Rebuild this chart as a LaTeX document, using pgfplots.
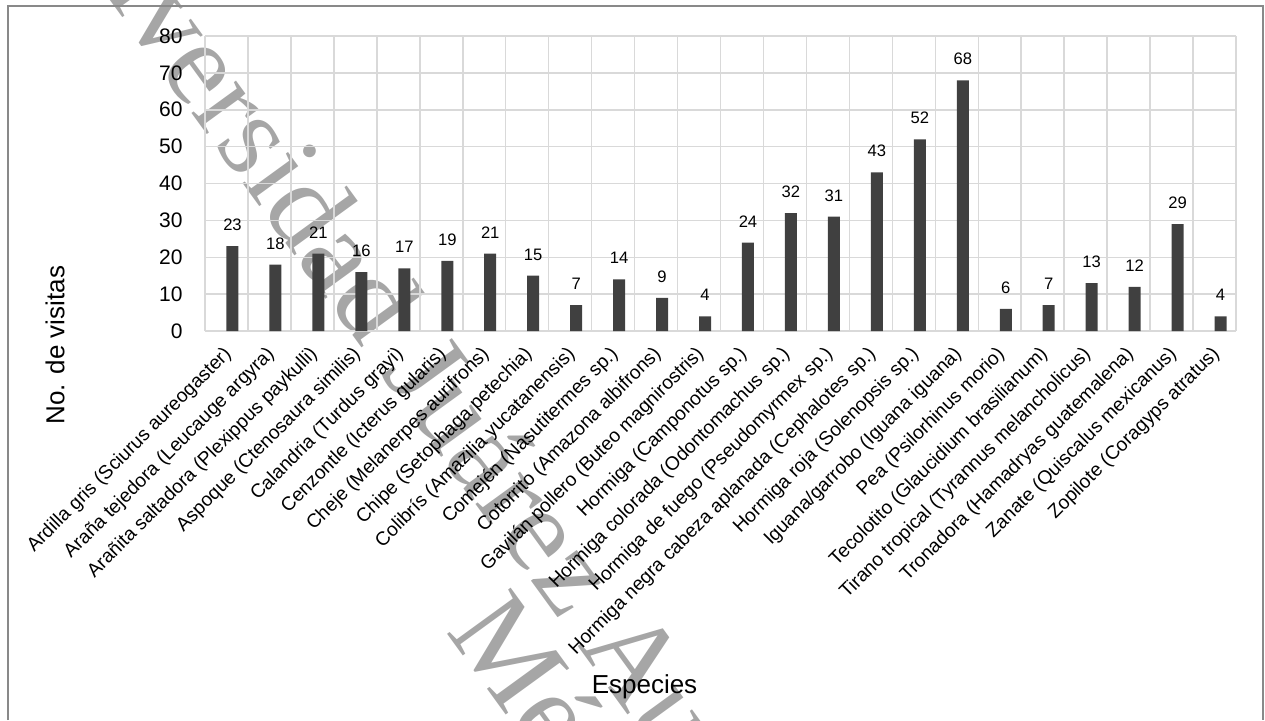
\documentclass[border=0pt]{standalone}
\usepackage{fontspec}
\setmainfont{Liberation Sans}
\newfontfamily\wmfont{Liberation Serif}
\usepackage{pgfplots}
\pgfplotsset{compat=1.18}
\definecolor{barc}{HTML}{404040}
\definecolor{gridc}{HTML}{D9D9D9}
\definecolor{framec}{HTML}{898989}
\definecolor{wmc}{HTML}{A6A6A6}
\begin{document}
\begin{tikzpicture}[x=1bp,y=1bp]
\useasboundingbox (0,0) rectangle (632.5,360);
% watermark
\node[rotate=-54, font=\wmfont\fontsize{60bp}{60bp}\selectfont, text=wmc, inner sep=0pt] at (323,25.5) {Universidad Juárez Autónoma de Tabasco};
\node[rotate=-54, font=\wmfont\fontsize{60bp}{60bp}\selectfont, text=wmc, inner sep=0pt] at (293.5,-18) {México};
\begin{axis}[
  at={(102.5bp,194.5bp)}, anchor=south west,
  scale only axis, width=515.5bp, height=147.5bp,
  xmin=-0.5, xmax=23.5, ymin=0, ymax=80,
  ytick={0,10,...,80},
  xtick={0,...,23},
  minor xtick={-0.5,0.5,...,23.5},
  xminorgrids=true, ymajorgrids=true,
  grid style={draw=gridc, line width=0.75bp},
  minor grid style={draw=gridc, line width=0.75bp},
  axis line style={draw=none},
  major tick length=0pt, minor tick length=0pt,
  /pgf/number format/assume math mode=true,
  yticklabel style={anchor=east, inner sep=0pt, xshift=-11bp, font=\fontsize{10.5bp}{12bp}\selectfont},
  xticklabel style={xshift=2.9bp, yshift=-11.85bp, rotate=45, anchor=base east, inner sep=0pt, font=\fontsize{9.6bp}{11bp}\selectfont},
  xticklabels={
    Ardilla gris (Sciurus aureogaster),
    Araña tejedora (Leucauge argyra),
    Arañita saltadora (Plexippus paykulli),
    Aspoque (Ctenosaura similis),
    Calandria (Turdus grayi),
    Cenzontle (Icterus gularis),
    Cheje (Melanerpes aurifrons),
    Chipe (Setophaga petechia),
    Colibrís (Amazilia yucatanensis),
    Comején (Nasutitermes sp.),
    Cotorrito (Amazona albifrons),
    Gavilán pollero (Buteo magnirostris),
    Hormiga (Camponotus sp.),
    Hormiga colorada (Odontomachus sp.),
    Hormiga de fuego (Pseudomyrmex sp.),
    Hormiga negra cabeza aplanada (Cephalotes sp.),
    Hormiga roja (Solenopsis sp.),
    Iguana/garrobo (Iguana iguana),
    Pea (Psilorhinus morio),
    Tecolotito (Glaucidium brasilianum),
    Tirano tropical (Tyrannus melancholicus),
    Tronadora (Hamadryas guatemalena),
    Zanate (Quiscalus mexicanus),
    Zopilote (Coragyps atratus)},
  ybar, bar width=6bp,
  nodes near coords,
  every node near coord/.append style={font=\fontsize{8.3bp}{10bp}\selectfont, anchor=south, inner sep=0pt, yshift=7.5bp, text=black},
]
\addplot[fill=barc, draw=none, bar shift=3bp] coordinates {
(0,23) (1,18) (2,21) (3,16) (4,17) (5,19) (6,21) (7,15) (8,7) (9,14) (10,9) (11,4)
(12,24) (13,32) (14,31) (15,43) (16,52) (17,68) (18,6) (19,7) (20,13) (21,12) (22,29) (23,4)};
\end{axis}
\node[rotate=90, font=\fontsize{13bp}{15bp}\selectfont] at (27.5,187.5) {No. de visitas};
\node[anchor=base, font=\fontsize{13bp}{15bp}\selectfont] at (322.25,13.5) {Especies};
\draw[framec, line width=0.9bp] (4,0) -- (4,357) -- (631.5,357) -- (631.5,0);
\end{tikzpicture}
\end{document}
